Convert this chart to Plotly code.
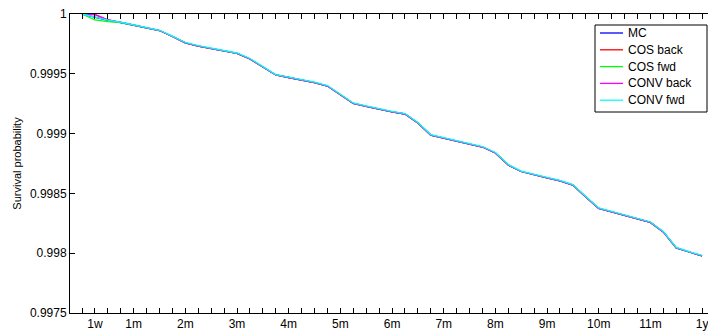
import plotly.graph_objects as go

# x positions: weekly-ish grid index (0 .. 48), 4 steps per month
t_index = list(range(49))
tick_labels = {1: "1w", 4: "1m", 8: "2m", 12: "3m", 16: "4m", 20: "5m", 24: "6m",
               28: "7m", 32: "8m", 36: "9m", 40: "10m", 44: "11m", 48: "1y"}

mc = [1.00000, 0.99997, 0.999946, 0.999929, 0.999908, 0.999887, 0.999862, 0.999812,
      0.999758, 0.999732, 0.999712, 0.999691, 0.999670, 0.999624, 0.999557, 0.999490,
      0.999469, 0.999448, 0.999427, 0.999398, 0.999323, 0.999252, 0.999227, 0.999202,
      0.999181, 0.999164, 0.999089, 0.998988, 0.998963, 0.998938, 0.998913, 0.998888,
      0.998838, 0.998737, 0.998683, 0.998654, 0.998629, 0.998604, 0.998570, 0.998470,
      0.998374, 0.998345, 0.998315, 0.998290, 0.998257, 0.998178, 0.998044, 0.998010,
      0.997977]
cos_back = [1.00000, 0.999995, 0.999950] + mc[3:]
cos_fwd = [1.00000, 0.999950, 0.999936] + mc[3:]
conv_back = [1.00000, 0.999996, 0.999952] + mc[3:]
conv_fwd = [1.00000, 0.999972, 0.999948, 0.999931, 0.999910, 0.999889, 0.999864, 0.999815,
            0.999762, 0.999736, 0.999716, 0.999695, 0.999674, 0.999628, 0.999561, 0.999494,
            0.999473, 0.999452, 0.999431, 0.999402, 0.999327, 0.999256, 0.999231, 0.999206,
            0.999185, 0.999168, 0.999093, 0.998992, 0.998967, 0.998942, 0.998917, 0.998892,
            0.998842, 0.998741, 0.998687, 0.998658, 0.998633, 0.998608, 0.998574, 0.998474,
            0.998378, 0.998349, 0.998319, 0.998294, 0.998261, 0.998182, 0.998048, 0.998014,
            0.997981]

series_names = ["MC", "COS back", "COS fwd", "CONV back", "CONV fwd"]
series_values = [mc, cos_back, cos_fwd, conv_back, conv_fwd]
series_colors = ["#0000ff", "#ff0000", "#00ff00", "#ff00ff", "#00ffff"]

y_ticks = [0.9975, 0.998, 0.9985, 0.999, 0.9995, 1.0]
y_tick_text = ["0.9975", "0.998", "0.9985", "0.999", "0.9995", "1"]

W, H = 708, 332
ML, MR, MT, MB = 70, 0, 14, 19
PW, PH = W - ML - MR, H - MT - MB


def px_x(p):
    return (p - ML) / PW


def px_y(p):
    return (H - MB - p) / PH


FONT = "Liberation Sans, Arial, Helvetica, sans-serif"
font = dict(family=FONT, size=12, color="black")

fig = go.Figure()
for name, vals, col in zip(series_names, series_values, series_colors):
    fig.add_trace(go.Scatter(x=t_index, y=vals, mode="lines", name=name,
                             line=dict(color=col, width=1.3), showlegend=False))

# hand-drawn MATLAB-style legend box (compact row spacing)
shapes = [dict(type="rect", xref="paper", yref="paper",
               x0=px_x(595), x1=px_x(707), y0=px_y(112), y1=px_y(25),
               line=dict(color="black", width=1), fillcolor="white", layer="above")]
annotations = []
for i, (name, col) in enumerate(zip(series_names, series_colors)):
    yy = 33 + i * 16.8
    shapes.append(dict(type="line", xref="paper", yref="paper",
                       x0=px_x(600), x1=px_x(623), y0=px_y(yy), y1=px_y(yy),
                       line=dict(color=col, width=1.3), layer="above"))
    annotations.append(dict(xref="paper", yref="paper", x=px_x(626), y=px_y(yy),
                            text=name, showarrow=False, xanchor="left", yanchor="middle",
                            font=dict(family=FONT, size=12, color="black")))

fig.update_layout(
    width=W, height=H,
    margin=dict(l=ML, r=MR, t=MT, b=MB),
    plot_bgcolor="white", paper_bgcolor="white",
    font=font,
    showlegend=False,
    shapes=shapes,
    annotations=annotations,
    xaxis=dict(range=[-0.93, 48.46], tickvals=t_index,
               ticktext=[tick_labels.get(i, "") for i in t_index],
               ticks="inside", ticklen=5, tickcolor="black", tickwidth=1,
               showline=True, linecolor="black", linewidth=1, mirror="ticks",
               showgrid=False, zeroline=False, tickfont=font,
               ticklabeloverflow="allow"),
    yaxis=dict(range=[0.9975, 1.0], tickvals=y_ticks, ticktext=y_tick_text,
               ticks="inside", ticklen=5, tickcolor="black", tickwidth=1,
               showline=True, linecolor="black", linewidth=1,
               showgrid=False, zeroline=False, tickfont=font,
               title=dict(text="Survival probability",
                          font=dict(family=FONT, size=11), standoff=6)),
)
fig.write_html("out.html")
